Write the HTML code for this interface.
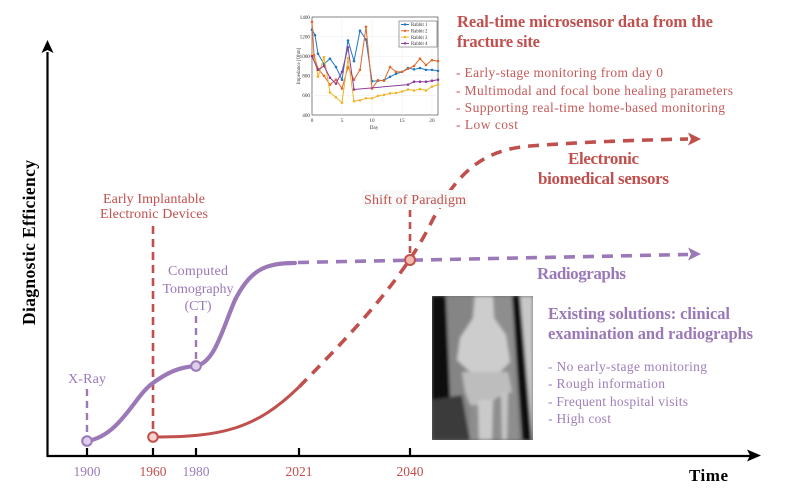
<!DOCTYPE html>
<html><head><meta charset="utf-8">
<style>
html,body{margin:0;padding:0;background:#fff;}
svg{display:block;}
text{font-family:"Liberation Serif",serif;}
</style></head>
<body>
<svg width="800" height="490" viewBox="0 0 800 490" xmlns="http://www.w3.org/2000/svg">
<defs>
<marker id="m1" viewBox="0 0 4 4" refX="2" refY="2" markerWidth="2.6" markerHeight="2.6" markerUnits="userSpaceOnUse"><circle cx="2" cy="2" r="2" fill="#1f77c4"/></marker>
<marker id="m2" viewBox="0 0 4 4" refX="2" refY="2" markerWidth="2.6" markerHeight="2.6" markerUnits="userSpaceOnUse"><circle cx="2" cy="2" r="2" fill="#e0662a"/></marker>
<marker id="m3" viewBox="0 0 4 4" refX="2" refY="2" markerWidth="2.6" markerHeight="2.6" markerUnits="userSpaceOnUse"><circle cx="2" cy="2" r="2" fill="#f0b429"/></marker>
<marker id="m4" viewBox="0 0 4 4" refX="2" refY="2" markerWidth="2.6" markerHeight="2.6" markerUnits="userSpaceOnUse"><circle cx="2" cy="2" r="2" fill="#8a3b9a"/></marker>
<filter id="blur" x="-10%" y="-10%" width="120%" height="120%"><feGaussianBlur stdDeviation="1.6"/></filter>
<clipPath id="xc"><rect x="432" y="296" width="101" height="144"/></clipPath>
</defs>

<!-- Axes -->
<line x1="47.5" y1="52" x2="47.5" y2="457" stroke="#000" stroke-width="2.2"/>
<polygon points="47.5,40 41.5,53 47.5,50 53.5,53" fill="#000"/>
<line x1="46.5" y1="456" x2="750" y2="456" stroke="#000" stroke-width="2.2"/>
<polygon points="761,455.5 747,449.5 750,455.5 747,461.5" fill="#000"/>
<g stroke="#000" stroke-width="2.2">
<line x1="87" y1="448" x2="87" y2="456"/>
<line x1="153" y1="448" x2="153" y2="456"/>
<line x1="196" y1="448" x2="196" y2="456"/>
<line x1="299" y1="448" x2="299" y2="456"/>
<line x1="410" y1="448" x2="410" y2="456"/>
</g>

<!-- Year labels -->
<g font-size="13.5">
<text x="87" y="476" text-anchor="middle" fill="#9b7bb8">1900</text>
<text x="153" y="476" text-anchor="middle" fill="#c0504d">1960</text>
<text x="196" y="476" text-anchor="middle" fill="#9b7bb8">1980</text>
<text x="299" y="476" text-anchor="middle" fill="#c0504d">2021</text>
<text x="410" y="476" text-anchor="middle" fill="#c0504d">2040</text>
</g>
<text x="689" y="481" font-size="17" font-weight="bold" fill="#000" textLength="39">Time</text>
<text transform="translate(35,242.5) rotate(-90)" text-anchor="middle" font-size="17.5" font-weight="bold" fill="#000" textLength="165">Diagnostic  Efficiency</text>

<!-- Dashed verticals -->
<line x1="153" y1="226" x2="153" y2="433" stroke="#c0504d" stroke-width="2.6" stroke-dasharray="8,5"/>
<line x1="196" y1="316" x2="196" y2="362" stroke="#9b78b8" stroke-width="2.4" stroke-dasharray="7,5"/>
<line x1="87" y1="389" x2="87" y2="437" stroke="#9b78b8" stroke-width="2.4" stroke-dasharray="7,5"/>
<line x1="410" y1="210" x2="410" y2="255" stroke="#c0504d" stroke-width="2.6" stroke-dasharray="7,5"/>

<!-- Purple curve -->
<path d="M87,441 C120,436 135,395 153,383 C168,372 180,367 196,366 C215,362 222,330 235,300 C250,270 265,263 295,263" fill="none" stroke="#9b78b8" stroke-width="4.2" stroke-linecap="round"/>
<path d="M298,262.5 L688,254.5" fill="none" stroke="#9b78b8" stroke-width="3.6" stroke-dasharray="11,8"/>
<polygon points="701,254 688,247.5 691,254 688,260.5" fill="#9b78b8"/>

<!-- Red curve -->
<path d="M153,437 C220,437 255,430 299,387" fill="none" stroke="#c0504d" stroke-width="3"/>
<path d="M299,387 C340,345 400,285 430,225 C455,175 480,150 530,146 C580,142 640,140 688,139" fill="none" stroke="#c0504d" stroke-width="3.6" stroke-dasharray="11,8"/>
<polygon points="701,139 688,132.5 691,139 688,145.5" fill="#c0504d"/>

<!-- Circles -->
<circle cx="87" cy="441" r="4.8" fill="#ddd0ea" stroke="#9b78b8" stroke-width="2"/>
<circle cx="196" cy="366" r="4.8" fill="#ddd0ea" stroke="#9b78b8" stroke-width="2"/>
<circle cx="153" cy="437" r="4.8" fill="#f6d4cf" stroke="#c0504d" stroke-width="2"/>
<circle cx="410" cy="260" r="5" fill="#f2b9b0" stroke="#c0504d" stroke-width="2"/>

<!-- Event labels -->
<rect x="362" y="190" width="106" height="18" fill="#f8fafa"/>
<g font-size="14" fill="#c0504d" text-anchor="middle">
<text x="154" y="203" textLength="102">Early Implantable</text>
<text x="154" y="218" textLength="108">Electronic Devices</text>
<text x="415" y="204" textLength="102">Shift of Paradigm</text>
</g>
<g font-size="14" fill="#9b78b8" text-anchor="middle">
<text x="198" y="275" textLength="60">Computed</text>
<text x="198" y="293" textLength="71">Tomography</text>
<text x="198" y="310" textLength="27">(CT)</text>
<text x="87" y="383" textLength="38">X-Ray</text>
</g>

<!-- Series labels -->
<g font-weight="bold" font-size="17">
<text x="568" y="164" fill="#c0504d" textLength="71">Electronic</text>
<text x="538" y="184" fill="#c0504d" textLength="131">biomedical sensors</text>
<text x="537" y="279" fill="#9b78b8" textLength="89">Radiographs</text>
</g>

<!-- Top-right text -->
<g fill="#c0504d">
<text x="457" y="27" font-size="16.5" font-weight="bold" textLength="256">Real-time microsensor data from the</text>
<text x="457" y="47" font-size="16.5" font-weight="bold" textLength="83">fracture site</text>
<g font-size="13.5" fill="#c55a5a">
<text x="456" y="77" textLength="207">- Early-stage monitoring from day 0</text>
<text x="456" y="95" textLength="277">- Multimodal and focal bone healing parameters</text>
<text x="456" y="112" textLength="269">- Supporting real-time home-based monitoring</text>
<text x="456" y="129" textLength="62">- Low cost</text>
</g>
</g>

<!-- Bottom-right text -->
<g fill="#9b78b8">
<text x="548" y="319" font-size="16.5" font-weight="bold" textLength="182">Existing solutions: clinical</text>
<text x="548" y="339" font-size="16.5" font-weight="bold" textLength="205">examination and radiographs</text>
<g font-size="13.5" fill="#a07fba">
<text x="548" y="371" textLength="159">- No early-stage monitoring</text>
<text x="548" y="388" textLength="117">- Rough information</text>
<text x="548" y="406" textLength="140">- Frequent hospital visits</text>
<text x="548" y="423" textLength="63">- High cost</text>
</g>
</g>

<!-- X-ray image -->
<g clip-path="url(#xc)">
<rect x="432" y="296" width="101" height="144" fill="#6a6a6a"/>
<g filter="url(#blur)">
<polygon points="432,296 446,296 452,440 432,440" fill="#111"/>
<polygon points="446,296 472,296 470,440 452,440" fill="#858585"/>
<polygon points="432,400 462,395 470,440 432,440" fill="#3a3a3a"/>
<polygon points="472,296 512,296 520,440 470,440" fill="#8e8e8e"/>
<polygon points="512,296 520,296 532,440 523,440" fill="#0c0c0c"/>
<polygon points="520,296 533,296 533,440 532,440" fill="#c8c8c8"/>
<polygon points="475,296 493,296 494,318 506,335 510,362 500,372 470,372 457,360 460,338 473,318" fill="#cdcdcd"/>
<polygon points="462,372 508,372 512,392 496,398 490,405 470,405 465,392" fill="#bdbdbd"/>
<polygon points="478,400 493,400 492,440 479,440" fill="#cacaca"/>
<polygon points="501,392 508,392 507,440 502,440" fill="#c4c4c4"/>
</g>
</g>

<!-- Inset chart -->
<g>
<rect x="312" y="17" width="126" height="98" fill="#fff" stroke="#333" stroke-width="0.6"/>
<g stroke="#e6e6e6" stroke-width="0.4">
<line x1="312" y1="36.6" x2="438" y2="36.6"/><line x1="312" y1="56.2" x2="438" y2="56.2"/>
<line x1="312" y1="75.8" x2="438" y2="75.8"/><line x1="312" y1="95.4" x2="438" y2="95.4"/>
<line x1="342" y1="17" x2="342" y2="115"/><line x1="372" y1="17" x2="372" y2="115"/>
<line x1="402" y1="17" x2="402" y2="115"/><line x1="432" y1="17" x2="432" y2="115"/>
</g>
<g font-size="5.2" fill="#333" text-anchor="end">
<text x="310" y="19">1400</text><text x="310" y="38.5">1200</text><text x="310" y="58">1000</text>
<text x="310" y="77.5">800</text><text x="310" y="97">600</text><text x="310" y="117">400</text>
</g>
<g font-size="5.2" fill="#333" text-anchor="middle">
<text x="312" y="122">0</text><text x="342" y="122">5</text><text x="372" y="122">10</text>
<text x="402" y="122">15</text><text x="432" y="122">20</text>
<text x="374" y="129">Day</text>
</g>
<text transform="translate(300,66) rotate(-90)" font-size="5" fill="#333" text-anchor="middle">Impedance [Ohm]</text>
<polyline fill="none" stroke="#1f77c4" stroke-width="1" marker-start="url(#m1)" marker-mid="url(#m1)" marker-end="url(#m1)" points="312,29.7 315,35.1 318,53.75 324,64 330,58.65 336,67 342,79.7 348,40.5 354,61.1 360,30.7 366,39.5 372,81.2 378,80.7 384,80.2 390,76.8 396,73.8 402,71.9 408,68 414,69.4 420,68 426,69.9 432,69.9 438,70.9"/>
<polyline fill="none" stroke="#e0662a" stroke-width="1" marker-start="url(#m2)" marker-mid="url(#m2)" marker-end="url(#m2)" points="312,21.9 314,55.2 318,68.9 324,75.8 330,84.6 336,79.7 342,88.5 348,67 354,79.7 360,69.9 366,26.8 372,88.5 378,80.2 384,80.7 390,67 396,71.9 402,71.9 408,68.9 414,66 420,58.65 426,65 432,60.1 438,61.1"/>
<polyline fill="none" stroke="#f0b429" stroke-width="1" marker-start="url(#m3)" marker-mid="url(#m3)" marker-end="url(#m3)" points="312,55.2 315,60.1 318,76.8 324,57.2 330,92.5 336,97.4 342,102.75 348,58.2 354,101.3 360,100.3 366,98.3 372,98.3 378,95.9 384,94.9 390,93.4 396,93 402,91.5 408,89.5 414,90.5 420,89 426,90.5 432,86.6 438,84.6"/>
<polyline fill="none" stroke="#8a3b9a" stroke-width="1" marker-start="url(#m4)" marker-mid="url(#m4)" marker-end="url(#m4)" points="312,56.2 318,69.9 324,66 330,77.8 336,83.6 342,71.9 348,47.4 354,89.5 408,84.6 414,81.7 420,81.7 426,81.7 432,80.7 438,79.7"/>
<rect x="399" y="21" width="38" height="26" fill="#fff" stroke="#444" stroke-width="0.5"/>
<g stroke-width="1">
<line x1="401" y1="24.5" x2="409" y2="24.5" stroke="#1f77c4"/><circle cx="405" cy="24.5" r="1.2" fill="#1f77c4"/>
<line x1="401" y1="30.8" x2="409" y2="30.8" stroke="#e0662a"/><circle cx="405" cy="30.8" r="1.2" fill="#e0662a"/>
<line x1="401" y1="37.1" x2="409" y2="37.1" stroke="#f0b429"/><circle cx="405" cy="37.1" r="1.2" fill="#f0b429"/>
<line x1="401" y1="43.4" x2="409" y2="43.4" stroke="#8a3b9a"/><circle cx="405" cy="43.4" r="1.2" fill="#8a3b9a"/>
</g>
<g font-size="4.8" fill="#333">
<text x="411" y="26.2">Rabbit 1</text><text x="411" y="32.5">Rabbit 2</text>
<text x="411" y="38.8">Rabbit 3</text><text x="411" y="45.1">Rabbit 4</text>
</g>
</g>
</svg>
</body></html>
